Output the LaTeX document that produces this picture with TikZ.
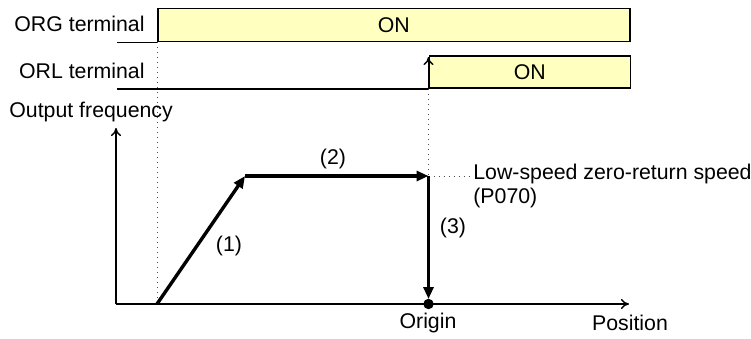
\documentclass[tikz,border=0pt]{standalone}
\usepackage{fontspec}
\setmainfont{Liberation Sans}
\usetikzlibrary{arrows.meta}
\definecolor{onfill}{RGB}{255,255,192}
\begin{document}
\begin{tikzpicture}[x=0.5pt,y=-0.5pt,
  lbl/.style={font=\fontsize{10.65pt}{12pt}\selectfont, inner sep=0pt},
  onbox/.style={draw=black, fill=onfill, line width=0.9pt, inner sep=0pt, font=\fontsize{10.65pt}{12pt}\selectfont},
  thin/.style={line width=0.7pt},
  guide/.style={dotted, line width=0.5pt, draw=black!70},
  axis/.style={line width=0.7pt, -{To[length=4pt,width=5pt]}},
  move/.style={line width=1.7pt, -{Triangle[length=6pt,width=5pt]}}]
\useasboundingbox (0,0) rectangle (751,338);
% terminals
\node[lbl, anchor=east] (orgt) at (145,24) {ORG terminal};
\node[lbl, anchor=east] (orlt) at (145,71) {ORL terminal};
\node[onbox, minimum width=236pt, minimum height=16.5pt, anchor=north west] (orgon) at (157,7.5) {ON};
\node[onbox, minimum width=100.5pt, minimum height=16pt, anchor=north west] (orlon) at (428.5,55) {ON};
\draw[thin] (orgon.south west) -- ++(-40,0);
\draw[thin] (orlon.south west) -- ++(-311.5,0);
\draw[thin, -{To[length=4pt,width=5pt]}] (orlon.south west) -- ([yshift=-1pt]orlon.north west);
% axes
\coordinate (o) at (116,304);
\coordinate (ytop) at (116,128);
\coordinate (xend) at (629,304);
\draw[axis] (o) -- (ytop);
\draw[axis] (o) -- (xend);
\node[lbl, anchor=west] (of) at (9,112) {Output frequency};
% profile
\coordinate (p0) at (157,304);
\coordinate (p1) at (245,176);
\coordinate (p2) at (428.5,176);
\coordinate (p3) at (428.5,304);
\coordinate (lsend) at (469,176);
% guides
\draw[guide] (orgon.south west) -- (p0);
\draw[guide] (orlon.south west) -- (p2);
\draw[guide] (p2) -- (lsend);
\draw[move] (p0) -- (p1);
\draw[move] (p1) -- (p2);
\draw[move] (p2) -- ([yshift=2.5pt]p3);
\fill (p3) circle (2.6pt);
% labels
\node[lbl] (l1) at (229,246) {(1)};
\node[lbl] (l2) at (333,159) {(2)};
\node[lbl] (l3) at (453,228) {(3)};
\node[lbl, anchor=west] (ls) at (473,174) {Low-speed zero-return speed};
\node[lbl, anchor=west] (pn) at (473,198) {(P070)};
\node[lbl] (orig) at (428,323) {Origin};
\node[lbl] (pos) at (630,323) {Position};
\end{tikzpicture}
\end{document}
